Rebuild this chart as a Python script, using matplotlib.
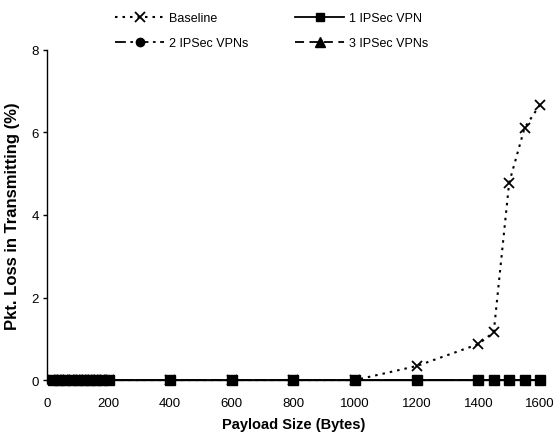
import matplotlib
matplotlib.use("Agg")
import matplotlib.pyplot as plt
from matplotlib.lines import Line2D

plt.rcParams['font.family'] = ['Liberation Sans', 'DejaVu Sans']

payload = [20, 40, 60, 80, 100, 120, 140, 160, 180, 200, 400, 600, 800, 1000,
           1200, 1400, 1450, 1500, 1550, 1600]
baseline = [0, 0, 0, 0, 0, 0, 0, 0, 0, 0, 0, 0, 0, 0,
            0.34, 0.87, 1.16, 4.78, 6.11, 6.67]
vpn1 = [0] * len(payload)
vpn2 = [0] * len(payload)
vpn3 = [0] * len(payload)
labels = ['Baseline', '1 IPSec VPN', '2 IPSec VPNs', '3 IPSec VPNs']

fig = plt.figure(figsize=(5.57, 4.39), dpi=100)
ax = fig.add_axes([0.0844, 0.132, 0.885, 0.752])

ls0 = (0, (1.2, 2.4))
ls2 = (0, (6, 2.5, 1.5, 2.5))
ls3 = (0, (5, 3))

ax.plot(payload, baseline, linestyle=ls0, color='black', lw=1.5,
        marker='x', ms=7, mew=1.3, zorder=3, clip_on=False)
ax.plot(payload, vpn3, linestyle=ls3, color='black', lw=1.3,
        marker='^', ms=5, zorder=2, clip_on=False)
ax.plot(payload, vpn2, linestyle=ls2, color='black', lw=1.3,
        marker='o', ms=5, zorder=2, clip_on=False)
ax.plot(payload, vpn1, linestyle='-', color='black', lw=1.3,
        marker='s', ms=6.5, zorder=4, clip_on=False)

ax.set_xlim(0, 1600)
ax.set_ylim(0, 8)
ax.set_xticks(range(0, 1601, 200))
ax.set_yticks(range(0, 9, 2))
for s in ['top', 'right']:
    ax.spines[s].set_visible(False)
ax.spines['left'].set_linewidth(1.0)
ax.spines['bottom'].set_linewidth(1.0)
ax.tick_params(axis='y', labelsize=9.5, length=3, width=1.0, direction='out', pad=3)
ax.tick_params(axis='x', labelsize=9.5, length=3, width=1.0, direction='out', pad=9)
ax.set_xlabel('Payload Size (Bytes)', fontsize=10.5, fontweight='bold', labelpad=6)
ax.set_ylabel('Pkt. Loss in Transmitting (%)', fontsize=12, fontweight='bold', labelpad=8)

hb = Line2D([], [], linestyle=ls0, color='black', lw=1.5, marker='x', ms=7, mew=1.3)
hv1 = Line2D([], [], linestyle='-', color='black', lw=1.3, marker='s', ms=6)
hv2 = Line2D([], [], linestyle=ls2, color='black', lw=1.3, marker='o', ms=6)
hv3 = Line2D([], [], linestyle=ls3, color='black', lw=1.3, marker='^', ms=7)

fig.legend(handles=[hb, hv2, hv1, hv3], labels=[labels[0], labels[2], labels[1], labels[3]],
           ncol=2, frameon=False, fontsize=9,
           loc='upper left', bbox_to_anchor=(0.187, 0.995), handlelength=3.9,
           handletextpad=0.35, columnspacing=3.8, labelspacing=1.0)

fig.savefig('out.png', dpi=100)
